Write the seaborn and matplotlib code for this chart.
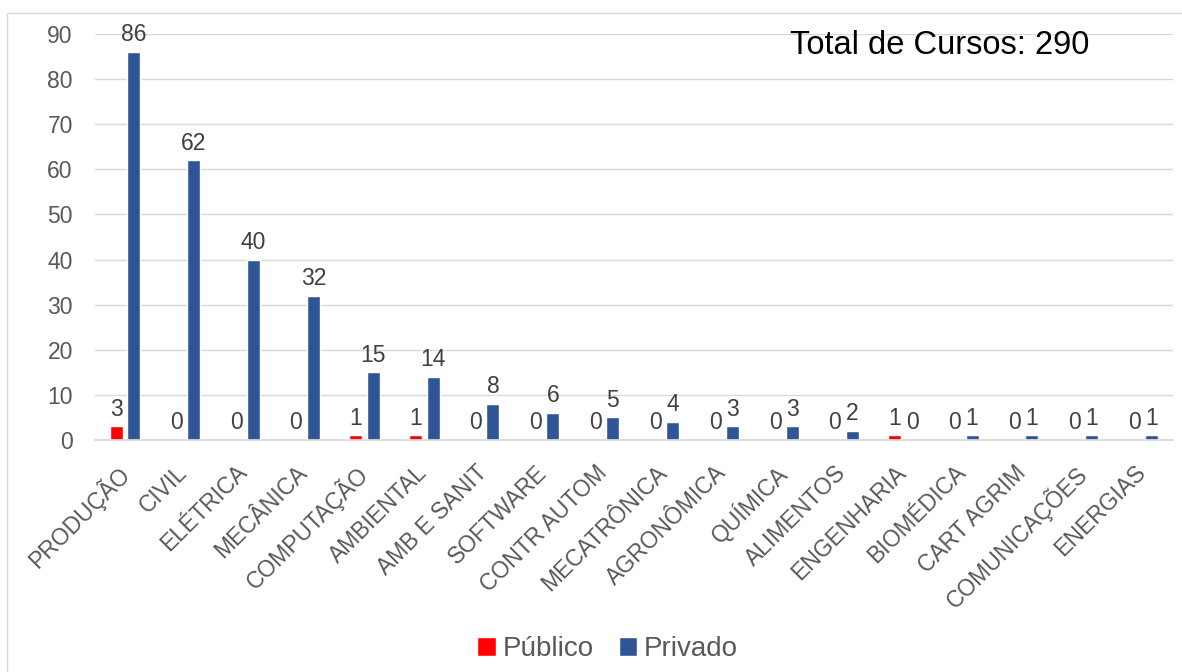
import matplotlib
matplotlib.use("Agg")
import matplotlib.pyplot as plt
import matplotlib.transforms as mtransforms
import pandas as pd
import seaborn as sns
from matplotlib.patches import Rectangle

# dados
cursos = ["PRODUÇÃO", "CIVIL", "ELÉTRICA", "MECÂNICA", "COMPUTAÇÃO", "AMBIENTAL",
          "AMB E SANIT", "SOFTWARE", "CONTR AUTOM", "MECATRÔNICA", "AGRONÔMICA",
          "QUÍMICA", "ALIMENTOS", "ENGENHARIA", "BIOMÉDICA", "CART AGRIM",
          "COMUNICAÇÕES", "ENERGIAS"]
publico = [3, 0, 0, 0, 1, 1, 0, 0, 0, 0, 0, 0, 0, 1, 0, 0, 0, 0]
privado = [86, 62, 40, 32, 15, 14, 8, 6, 5, 4, 3, 3, 2, 0, 1, 1, 1, 1]
series = ["Público", "Privado"]
cores = ["#FF0000", "#2F5597"]
yticks = list(range(0, 100, 10))
total = sum(publico) + sum(privado)

df = pd.DataFrame({
    "curso": cursos * 2,
    "tipo": [series[0]] * len(cursos) + [series[1]] * len(cursos),
    "qtd": publico + privado,
})

sns.set_theme(style="white")
plt.rcParams["font.family"] = ["Liberation Sans", "DejaVu Sans"]

fig = plt.figure(figsize=(11.82, 6.72), dpi=100)
ax = fig.add_axes([95 / 1182, 1 - 440 / 672, 1078 / 1182, 406 / 672])

sns.barplot(data=df, x="curso", y="qtd", hue="tipo", hue_order=series,
            palette=cores, saturation=1, width=0.58, gap=0.25,
            errorbar=None, ax=ax)

for c in ax.containers:
    ax.bar_label(c, fmt="%d", padding=4, fontsize=16.5, color="#404040")

ax.set_ylim(0, 90)
ax.set_yticks(yticks)
ax.set_xlim(-0.5, len(cursos) - 0.5)
ax.grid(axis="y", color="#d9d9d9", linewidth=1)
ax.set_axisbelow(True)
for s in ["top", "right", "left"]:
    ax.spines[s].set_visible(False)
ax.spines["bottom"].set_color("#d9d9d9")
ax.tick_params(axis="both", length=0, colors="#595959")
ax.tick_params(axis="y", labelsize=16.5, pad=16)
ax.tick_params(axis="x", labelsize=16.5, pad=15)
# rótulos inclinados, deslocados um pouco para a esquerda
shift = mtransforms.ScaledTranslation(-9 / 100, 0, fig.dpi_scale_trans)
for lbl in ax.get_xticklabels():
    lbl.set_rotation(45)
    lbl.set_ha("right")
    lbl.set_va("top")
    lbl.set_rotation_mode("anchor")
    lbl.set_transform(lbl.get_transform() + shift)
ax.set_xlabel("")
ax.set_ylabel("")

handles, labels = ax.get_legend_handles_labels()
ax.get_legend().remove()
fig.legend(handles, labels, loc="center", bbox_to_anchor=(0.514, 1 - 649 / 672),
           ncol=2, frameon=False, fontsize=20, handlelength=0.65, handleheight=0.65,
           handletextpad=0.25, columnspacing=0.9, labelcolor="#595959")

fig.text(940 / 1182, 1 - 45 / 672, f"Total de Cursos: {total}", ha="center",
         va="center", fontsize=23.5, color="black")

fig.patches.append(Rectangle((7 / 1182, -0.1), 1.2, 1.1 - 13 / 672,
                             transform=fig.transFigure, fill=False,
                             edgecolor="#d9d9d9", linewidth=1))

fig.savefig("out.png", dpi=100)
